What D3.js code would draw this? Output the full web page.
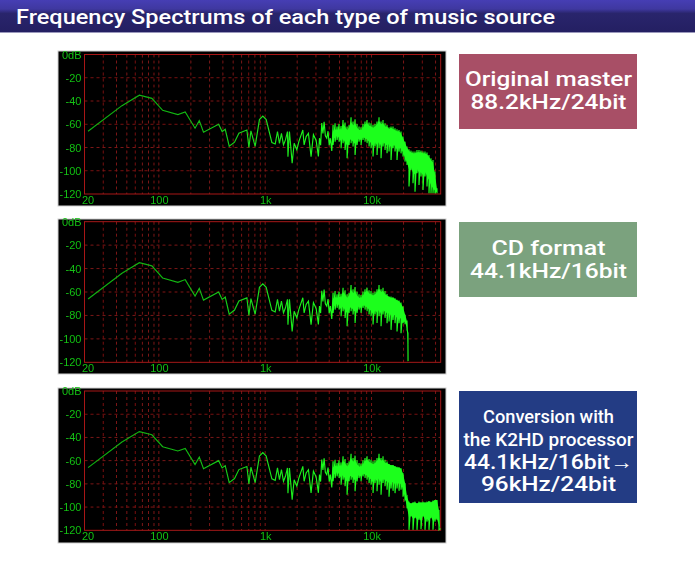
<!DOCTYPE html>
<html><head><meta charset="utf-8">
<script src="https://cdn.jsdelivr.net/npm/d3@7"></script>
<style>html,body{margin:0;padding:0;background:#fff}svg{display:block}</style></head>
<body><svg id="c" width="695" height="580"></svg>
<script>
const titleText = "Frequency Spectrums of each type of music source";
const dbTicks = [0,-20,-40,-60,-80,-100,-120];
const freqLabels = [20,100,1000,10000];
const gridFreqs = [30,40,50,60,70,80,90,100,200,300,400,500,600,700,800,900,1000,2000,3000,4000,5000,6000,7000,8000,9000,10000,20000,30000,40000];

// low and mid frequencies, the same in all three sources
const lowFreq = [21.6,45,65.6,86,108.6,151,177,219,240,263,365,394,421,459,515,566,673,703,734,805,883,950,1022,1156,1242,1305,1362,1422,1486,1551,1620,1637,1691,1793,1872,1985,2072,2259,2323,2427,2551,2700,2841,3013,3165,3240,3320,3404,3490,3581,3680,3793,3900,4000,4100,4229];
const lowDb = [-66,-44,-35,-37.7,-48,-51.7,-49.4,-63.4,-56.9,-66.9,-60,-66.3,-64.3,-78.9,-75.4,-67.7,-65,-80,-65.7,-79,-56,-53,-56,-75.7,-77,-66.3,-76.4,-67.8,-77.8,-73.5,-66.3,-88,-66.3,-93.6,-76.4,-82,-75,-64.9,-77.8,-70.6,-67.8,-87.8,-69,-74,-87.7,-72,-78,-59,-68,-58,-70,-72,-66,-78,-72,-83];

// dense band, same in all sources up to about 14 kHz
const bandFreq = [4350,4542,4743,4953,5172,5400,5639,5888,6149,6420,6704,7001,7310,7633,7971,8323,8691,9075,9476,9895,10332,10789,11266,11764,12284,12827,13394];
const bandTop = [-60.6,-59.2,-62,-59.7,-61.5,-56.3,-58.6,-62,-60.6,-54,-57.7,-55.7,-59.7,-62,-62.6,-59.7,-57.7,-56.3,-58.6,-59.2,-60.6,-59.7,-57.7,-54,-57.7,-56.3,-59.2];
const bandBottom = [-77.8,-75,-73.5,-75,-80.7,-76.4,-82.1,-89.3,-77.8,-76.4,-79.2,-86.4,-77.8,-75,-77.8,-73.5,-75,-76.4,-79.2,-80.7,-87.8,-79.2,-86.4,-80.7,-89.3,-79.2,-82.1];
const bandCoreTop = [-66,-64,-66,-64,-65,-60,-62,-65,-63,-58,-61,-59,-63,-65,-65,-63,-60,-59,-61,-62,-63,-62,-60,-57,-60,-59,-62];
const bandCoreBottom = [-71,-72,-69,-72,-75,-72,-76,-78,-74,-73,-75,-77,-74,-72,-74,-71,-72,-73,-75,-76,-79,-75,-78,-75,-79,-75,-77];

// top end of each source
const masterFreq = [13986,14604,15250,15924,16628,17363,18131,18932,19770,20644,21556,22509,23504,24543,25628,26761,27944,29179,30469,31816,33222,34691,36224,37826,39498,41244];
const masterTop = [-60.6,-62.6,-62,-62,-63.5,-64.3,-64.9,-66.3,-70.6,-75,-79.2,-81.5,-82.7,-83.5,-83.5,-82.1,-82.1,-82.7,-83.5,-83.5,-84.4,-86.4,-89.3,-90.7,-100.7,-115];
const masterBottom = [-85,-83.5,-90.7,-80.7,-83.5,-90.7,-83.5,-85,-87.8,-92.1,-95,-113.6,-99.3,-110.8,-118,-102.2,-112.2,-105,-116.5,-105,-113.6,-119.4,-119.4,-119.4,-119.4,-119.4];
const masterCoreTop = [-62,-64,-63,-64,-65,-66,-66,-68,-72,-76,-80,-83,-84,-85,-85,-84,-84,-84,-85,-85,-86,-88,-91,-93,-103,-116];
const masterCoreBottom = [-78,-77,-80,-77,-79,-82,-80,-81,-84,-89,-93,-99,-97,-102,-103,-98,-102,-101,-104,-100,-105,-108,-112,-115,-117,-118];

const cdFreq = [13986,14604,15250,15924,16628,17363,18131,18932,19770,20644,21556,22000,22050];
const cdTop = [-61.6,-63.9,-63.9,-64.5,-65.3,-66.7,-67.3,-69,-72.4,-79.5,-85.2,-95.1,-119];
const cdBottom = [-86.6,-85.2,-92.3,-83.8,-86.6,-93.7,-86.6,-95.1,-86.6,-86.6,-92.3,-105,-119];
const cdCoreTop = [-63,-64,-65,-65,-66,-67,-68,-70,-73,-79,-85,-95,-119];
const cdCoreBottom = [-78,-78,-80,-79,-80,-82,-81,-83,-84,-86,-91,-104,-119];

const k2Freq = [13986,14604,15250,15924,16628,17363,18131,18932,19770,20644,21556,22509,23504,24543,25628,26761,27944,29179,30469,31816,33222,34691,36224,37826,39498,41244,43067,44000];
const k2Top = [-60.8,-62.9,-63.7,-63.7,-64.6,-65.2,-65.7,-66.6,-70.9,-79.5,-91,-95.3,-96.7,-96.1,-95.3,-96.7,-95.3,-96.1,-95.3,-96.1,-95.3,-94.7,-95.3,-94.4,-93.9,-93.9,-102.5,-119];
const k2Bottom = [-85,-91,-84,-86,-88,-84,-86,-85,-91,-93.8,-101,-119.6,-108,-119.6,-109.6,-119.6,-111,-119,-108,-119.6,-112.5,-119.6,-109.6,-119.6,-112.5,-111,-119.6,-119.6];
const k2CoreTop = [-62,-63,-64,-64,-65,-66,-66,-67,-71,-79,-91,-96,-97,-96,-96,-97,-96,-96,-96,-96,-96,-95,-96,-95,-94,-94,-103,-119];
const k2CoreBottom = [-78,-79,-78,-79,-80,-79,-80,-80,-85,-92,-100,-109,-107,-110,-108,-111,-109,-112,-107,-111,-110,-112,-108,-112,-110,-110,-116,-119];

const boxColors = ["#a84f66","#7ba27e","#233c84"];
const boxLines = [["Original master","88.2kHz/24bit"],["CD format","44.1kHz/16bit"],["Conversion with","the K2HD processor","44.1kHz/16bit→","96kHz/24bit"]];

const svg = d3.select("#c");
const defs = svg.append("defs");
const grad = defs.append("linearGradient").attr("id","bar").attr("x1",0).attr("x2",0).attr("y1",0).attr("y2",1);
[[0,"#463eb4"],[.28,"#3f38a0"],[.42,"#29256c"],[1,"#241f62"]].forEach(s=>grad.append("stop").attr("offset",s[0]).attr("stop-color",s[1]));
const blur = defs.append("filter").attr("id","soft").attr("x","-5%").attr("y","-5%").attr("width","110%").attr("height","110%");
blur.append("feGaussianBlur").attr("stdDeviation",0.4);
const ink = defs.append("linearGradient").attr("id","ink").attr("gradientUnits","userSpaceOnUse").attr("x1",84).attr("x2",440).attr("y1",0).attr("y2",0);
[[0,"#12b012"],[.3,"#12b812"],[.5,"#1ce01c"],[.7,"#1cff1c"],[1,"#1cff1c"]].forEach(s=>ink.append("stop").attr("offset",s[0]).attr("stop-color",s[1]));

svg.append("rect").attr("x",0).attr("y",0).attr("width",695).attr("height",32).attr("fill","url(#bar)");
svg.append("rect").attr("x",0).attr("y",32).attr("width",695).attr("height",1).attr("fill","#9a98bc");
svg.append("text").attr("x",16).attr("y",24).attr("fill","#fff").attr("font-family","Roboto,sans-serif")
  .attr("font-size",19.5).attr("font-weight",500).attr("textLength",539).attr("lengthAdjust","spacingAndGlyphs").text(titleText);

const x = d3.scaleLog().domain([20,44700]).range([84.5,440.7]);
const font = "'Liberation Sans Narrow','Liberation Sans',sans-serif";

const panels = [
 {outer:[51,206], plot:[54.5,194], f:masterFreq, t:masterTop, b:masterBottom, ct:masterCoreTop, cb:masterCoreBottom, box:[54,75],
  base:[86,109], fs:[20,20], w:[167,156]},
 {outer:[219,374], plot:[221.7,362.3], f:cdFreq, t:cdTop, b:cdBottom, ct:cdCoreTop, cb:cdCoreBottom, box:[222,75],
  base:[255,278], fs:[20,20], w:[114,157]},
 {outer:[388,543], plot:[391,530.3], f:k2Freq, t:k2Top, b:k2Bottom, ct:k2CoreTop, cb:k2CoreBottom, box:[391,112],
  base:[422.5,445.5,469,491], fs:[19,19,19.5,19.5], w:[131,170,169,135]}
];

panels.forEach((p,i)=>{
  const g = svg.append("g");
  g.append("rect").attr("x",58).attr("y",p.outer[0]).attr("width",388).attr("height",p.outer[1]-p.outer[0])
    .attr("fill","#000").attr("stroke","#d0d0d0").attr("stroke-width",1);
  const y = d3.scaleLinear().domain([0,-120]).range(p.plot);
  const art = g.append("g").attr("filter","url(#soft)");

  art.append("g").selectAll("line").data(gridFreqs).join("line")
    .attr("x1",d=>x(d)).attr("x2",d=>x(d)).attr("y1",p.plot[0]).attr("y2",p.plot[1])
    .attr("stroke","#7c1414").attr("stroke-dasharray","3 3");
  art.append("g").selectAll("line").data(dbTicks.slice(1,-1)).join("line")
    .attr("x1",84.5).attr("x2",440.7).attr("y1",d=>y(d)).attr("y2",d=>y(d))
    .attr("stroke","#7c1414").attr("stroke-dasharray","3 3");
  art.append("rect").attr("x",84.5).attr("y",p.plot[0]).attr("width",356.2).attr("height",p.plot[1]-p.plot[0])
    .attr("fill","none").attr("stroke","#a81818").attr("stroke-width",1);

  const yAxis = d3.axisLeft(y).tickValues(dbTicks).tickSize(0).tickPadding(3).tickFormat(d=>d===0?"0dB":d);
  const ya = art.append("g").attr("transform","translate(84.5,0)").call(yAxis);
  const xAxis = d3.axisBottom(x).tickValues(freqLabels).tickSize(0).tickPadding(2).tickFormat(d=>d>=10000?"10k":d>=1000?"1k":d);
  const xa = art.append("g").attr("transform",`translate(0,${p.plot[1]})`).call(xAxis);
  [ya,xa].forEach(a=>{a.select(".domain").remove();
    a.selectAll("text").attr("fill","#14c014").attr("font-family",font).attr("font-size",11);});
  xa.selectAll("text").filter(d=>d===20).attr("dx",3);

  const pts = lowFreq.map((f,j)=>[f,lowDb[j]]);
  const addBand=(fs,ts,bs)=>fs.forEach((f,j)=>{pts.push([f,ts[j]]);pts.push([f,bs[j]]);});
  addBand(bandFreq,bandTop,bandBottom);
  addBand(p.f,p.t,p.b);
  const line = d3.line().x(d=>x(d[0])).y(d=>y(d[1]));
  const coreF = bandFreq.concat(p.f), coreT = bandCoreTop.concat(p.ct), coreB = bandCoreBottom.concat(p.cb);
  const area = d3.area().x(d=>x(d)).y0((d,j)=>y(coreB[j])).y1((d,j)=>y(coreT[j]));
  art.append("path").datum(coreF).attr("d",area).attr("fill","#1cff1c");
  art.append("path").datum(pts).attr("d",line).attr("fill","none").attr("stroke","url(#ink)").attr("stroke-width",1.15);

  const bx = svg.append("g");
  bx.append("rect").attr("x",459).attr("y",p.box[0]).attr("width",178).attr("height",p.box[1]).attr("fill",boxColors[i]);
  boxLines[i].forEach((t,j)=>{
    const el = bx.append("text").attr("x",548.5).attr("y",p.base[j]).attr("text-anchor","middle")
      .attr("fill","#fff").attr("font-family","Roboto,sans-serif").attr("font-size",p.fs[j]).attr("font-weight",500)
      .attr("textLength",p.w[j]).attr("lengthAdjust","spacingAndGlyphs").text(t);
  });
});
</script></body></html>
